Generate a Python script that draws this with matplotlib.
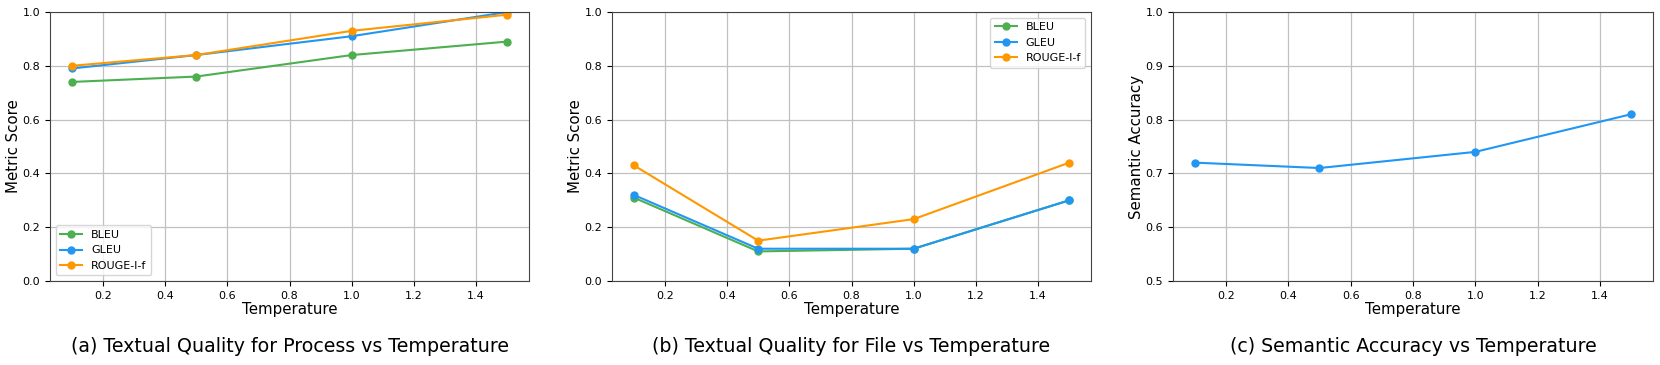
import numpy as np
import matplotlib
matplotlib.use("Agg")
import matplotlib.pyplot as plt

temps = [0.1, 0.5, 1.0, 1.5]

proc_bleu = [0.74, 0.76, 0.84, 0.89]
proc_gleu = [0.79, 0.84, 0.91, 1.00]
proc_rouge = [0.80, 0.84, 0.93, 0.99]

file_bleu = [0.31, 0.11, 0.12, 0.30]
file_gleu = [0.32, 0.12, 0.12, 0.30]
file_rouge = [0.43, 0.15, 0.23, 0.44]

sem_acc = [0.72, 0.71, 0.74, 0.81]

c_bleu = '#4CAF50'
c_gleu = '#2196F3'
c_rouge = '#FF9800'

fig = plt.figure(figsize=(16.6, 3.65), dpi=100)
ax1 = fig.add_axes([50/1660, 84/365, 479/1660, 269/365])
ax2 = fig.add_axes([612/1660, 84/365, 479/1660, 269/365])
ax3 = fig.add_axes([1173/1660, 84/365, 480/1660, 269/365])

def style(ax):
	ax.grid(True, color='#c0c0c0', linewidth=0.9)
	ax.set_axisbelow(True)
	ax.tick_params(labelsize=8)
	for s in ax.spines.values():
		s.set_color('#444444')
	ax.set_xlabel('Temperature', fontsize=10.8, labelpad=1)

ax1.plot(temps, proc_bleu, '-o', color=c_bleu, ms=5, lw=1.5, label='BLEU')
ax1.plot(temps, proc_gleu, '-o', color=c_gleu, ms=5, lw=1.5, label='GLEU')
ax1.plot(temps, proc_rouge, '-o', color=c_rouge, ms=5, lw=1.5, label='ROUGE-l-f')
ax1.set_ylim(0, 1)
ax1.set_ylabel('Metric Score', fontsize=10.8, labelpad=1)
style(ax1)
ax1.legend(loc='lower left', fontsize=8)

ax2.plot(temps, file_bleu, '-o', color=c_bleu, ms=5, lw=1.5, label='BLEU')
ax2.plot(temps, file_gleu, '-o', color=c_gleu, ms=5, lw=1.5, label='GLEU')
ax2.plot(temps, file_rouge, '-o', color=c_rouge, ms=5, lw=1.5, label='ROUGE-l-f')
ax2.set_ylim(0, 1)
ax2.set_ylabel('Metric Score', fontsize=10.8, labelpad=1)
style(ax2)
ax2.legend(loc='upper right', fontsize=8)

ax3.plot(temps, sem_acc, '-o', color=c_gleu, ms=5, lw=1.5)
ax3.set_ylim(0.5, 1)
ax3.set_ylabel('Semantic Accuracy', fontsize=10.8, labelpad=1)
style(ax3)

captions = ['(a) Textual Quality for Process vs Temperature',
	'(b) Textual Quality for File vs Temperature',
	'(c) Semantic Accuracy vs Temperature']
for ax, cap in zip([ax1, ax2, ax3], captions):
	pos = ax.get_position()
	fig.text(pos.x0 + pos.width / 2, 19/365, cap, fontsize=13.7, ha='center', va='center')

fig.savefig('out.png', dpi=100)
